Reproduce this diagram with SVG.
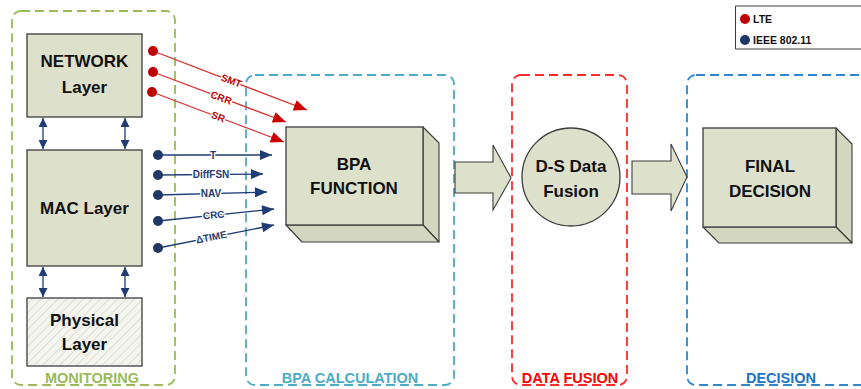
<svg xmlns="http://www.w3.org/2000/svg" width="861" height="389" viewBox="0 0 861 389">
  <style>
    .box { fill: #dde0cb; stroke: #3c3c3c; stroke-width: 1.3; }
    .side { fill: #d4d7c0; stroke: #3c3c3c; stroke-width: 1.1; stroke-linejoin: round; }
    .big { font-family: "Liberation Sans", Arial, sans-serif; font-weight: bold; font-size: 17px; fill: #111; text-anchor: middle; }
    .grp { fill: none; stroke-width: 1.8; stroke-dasharray: 9 5; }
    .glbl { font-family: "Liberation Sans", Arial, sans-serif; font-weight: bold; font-size: 14.5px; text-anchor: middle; }
    .lte { stroke: #d93030; stroke-width: 1.3; fill: none; }
    .wifi { stroke: #1f3c74; stroke-width: 1.3; fill: none; }
    .lbl { font-family: "Liberation Sans", Arial, sans-serif; font-weight: bold; font-size: 10px; text-anchor: middle; stroke: #fff; stroke-width: 2.5; paint-order: stroke; }
    .legend { font-family: "Liberation Sans", Arial, sans-serif; font-weight: bold; font-size: 10.5px; fill: #111; }
    .blk { fill: #dde0cb; stroke: #3c3c3c; stroke-width: 1.1; stroke-linejoin: miter; }
  </style>
  <defs>
    <marker id="redHead" viewBox="0 0 12 10" refX="12" refY="5" markerWidth="14" markerHeight="11" markerUnits="userSpaceOnUse" orient="auto">
      <path d="M0,0 L12,5 L0,10 Z" fill="#cc0000"/>
    </marker>
    <marker id="blueHead" viewBox="0 0 12 10" refX="12" refY="5" markerWidth="13" markerHeight="10" markerUnits="userSpaceOnUse" orient="auto">
      <path d="M0,0 L12,5 L0,10 Z" fill="#1f3c74"/>
    </marker>
    <marker id="redDot" viewBox="0 0 10 10" refX="5" refY="5" markerWidth="10" markerHeight="10" markerUnits="userSpaceOnUse">
      <circle cx="5" cy="5" r="5" fill="#c00000"/>
    </marker>
    <marker id="blueDot" viewBox="0 0 10 10" refX="5" refY="5" markerWidth="10" markerHeight="10" markerUnits="userSpaceOnUse">
      <circle cx="5" cy="5" r="5" fill="#1f3864"/>
    </marker>
    <marker id="vHead" viewBox="0 0 10 10" refX="10" refY="5" markerWidth="10" markerHeight="9" markerUnits="userSpaceOnUse" orient="auto-start-reverse">
      <path d="M0,0 L10,5 L0,10 Z" fill="#1f3c74"/>
    </marker>
    <pattern id="hatch" width="6" height="6" patternUnits="userSpaceOnUse" patternTransform="rotate(45)">
      <rect width="6" height="6" fill="#f5f5ef"/>
      <line x1="0" y1="0" x2="0" y2="6" stroke="#cfcfc4" stroke-width="1.2"/>
    </pattern>
  </defs>

  <!-- stage frames -->
  <g id="stage-monitoring">
    <rect class="grp" x="12" y="11" width="163" height="374" rx="9" stroke="#9bbb59"/>
    <text class="glbl" x="92" y="383" fill="#9bbb59">MONITORING</text>
  </g>
  <g id="stage-bpa">
    <rect class="grp" x="246" y="75" width="208" height="310" rx="9" stroke="#4bacc6"/>
    <text class="glbl" x="350" y="383" fill="#4bacc6">BPA CALCULATION</text>
  </g>
  <g id="stage-fusion">
    <rect class="grp" x="512" y="75" width="115" height="310" rx="9" stroke="#ff2a2a"/>
    <text class="glbl" x="570" y="383" fill="#ff0000">DATA FUSION</text>
  </g>
  <g id="stage-decision">
    <rect class="grp" x="687" y="75" width="200" height="310" rx="9" stroke="#2e86d0"/>
    <text class="glbl" x="781" y="383" fill="#1a73c4">DECISION</text>
  </g>

  <!-- protocol layers -->
  <g id="network-layer">
    <rect class="box" x="27" y="34" width="115" height="83"/>
    <text class="big" x="84.5" y="67">NETWORK</text>
    <text class="big" x="84.5" y="93">Layer</text>
  </g>
  <g id="mac-layer">
    <rect class="box" x="27" y="150" width="115" height="116"/>
    <text class="big" x="84.5" y="214">MAC Layer</text>
  </g>
  <g id="physical-layer">
    <rect x="27" y="298" width="115" height="68" fill="url(#hatch)" stroke="#3c3c3c" stroke-width="1.3"/>
    <text class="big" x="84.5" y="326">Physical</text>
    <text class="big" x="84.5" y="350">Layer</text>
  </g>

  <!-- BPA function cube -->
  <g id="bpa-function">
    <polygon class="side" points="423,127 439,143 439,242 423,225"/>
    <polygon class="side" points="286,225 423,225 439,242 302,242"/>
    <rect class="box" x="286" y="127" width="137" height="98"/>
    <text class="big" x="354" y="170">BPA</text>
    <text class="big" x="354" y="194">FUNCTION</text>
  </g>

  <!-- D-S fusion -->
  <g id="ds-fusion">
    <circle class="box" cx="571" cy="177" r="49"/>
    <text class="big" x="571" y="172">D-S Data</text>
    <text class="big" x="571" y="197">Fusion</text>
  </g>

  <!-- final decision cube -->
  <g id="final-decision">
    <polygon class="side" points="836,128 852,144 852,243 836,227"/>
    <polygon class="side" points="703,227 836,227 852,243 719,243"/>
    <rect class="box" x="703" y="128" width="133" height="99"/>
    <text class="big" x="770" y="172">FINAL</text>
    <text class="big" x="770" y="197">DECISION</text>
  </g>

  <!-- legend -->
  <g id="legend">
    <path d="M880,6 H735.5 V49 H880" fill="#fff" stroke="#3c3c3c" stroke-width="1"/>
    <circle cx="745" cy="19" r="5" fill="#c00000"/>
    <text class="legend" x="753" y="23">LTE</text>
    <circle cx="745" cy="40" r="5" fill="#1f3864"/>
    <text class="legend" x="753" y="44">IEEE 802.11</text>
  </g>

  <!-- connectors -->
  <g id="connectors">
    <!-- layer interfaces -->
    <line x1="43" y1="118" x2="43" y2="149" stroke="#1f3c74" stroke-width="1.3" marker-start="url(#vHead)" marker-end="url(#vHead)"/>
    <line x1="125" y1="118" x2="125" y2="149" stroke="#1f3c74" stroke-width="1.3" marker-start="url(#vHead)" marker-end="url(#vHead)"/>
    <line x1="43" y1="267" x2="43" y2="297" stroke="#1f3c74" stroke-width="1.3" marker-start="url(#vHead)" marker-end="url(#vHead)"/>
    <line x1="125" y1="267" x2="125" y2="297" stroke="#1f3c74" stroke-width="1.3" marker-start="url(#vHead)" marker-end="url(#vHead)"/>

    <!-- LTE metrics -->
    <line class="lte" x1="153" y1="51" x2="307" y2="110" marker-start="url(#redDot)" marker-end="url(#redHead)"/>
    <line class="lte" x1="153" y1="72" x2="286" y2="122" marker-start="url(#redDot)" marker-end="url(#redHead)"/>
    <line class="lte" x1="152" y1="92" x2="284" y2="142" marker-start="url(#redDot)" marker-end="url(#redHead)"/>
    <text class="lbl" fill="#c00000" transform="translate(230,84) rotate(21)">SMT</text>
    <text class="lbl" fill="#c00000" transform="translate(220,101) rotate(20.6)">CRR</text>
    <text class="lbl" fill="#c00000" transform="translate(217,120) rotate(20.7)">SR</text>

    <!-- IEEE 802.11 metrics -->
    <line class="wifi" x1="158" y1="155" x2="272" y2="155" marker-start="url(#blueDot)" marker-end="url(#blueHead)"/>
    <line class="wifi" x1="158" y1="175" x2="263" y2="174" marker-start="url(#blueDot)" marker-end="url(#blueHead)"/>
    <line class="wifi" x1="158" y1="195" x2="267" y2="192" marker-start="url(#blueDot)" marker-end="url(#blueHead)"/>
    <line class="wifi" x1="158" y1="221" x2="274" y2="209" marker-start="url(#blueDot)" marker-end="url(#blueHead)"/>
    <line class="wifi" x1="158" y1="248" x2="274" y2="225" marker-start="url(#blueDot)" marker-end="url(#blueHead)"/>
    <text class="lbl" fill="#1f3c74" x="213" y="158.5">T</text>
    <text class="lbl" fill="#1f3c74" x="211" y="178">DiffFSN</text>
    <text class="lbl" fill="#1f3c74" x="211" y="197">NAV</text>
    <text class="lbl" fill="#1f3c74" transform="translate(214,218.5) rotate(-5.9)">CRC</text>
    <text class="lbl" fill="#1f3c74" transform="translate(212,240.5) rotate(-11.2)">ΔTIME</text>

    <!-- stage-to-stage block arrows -->
    <polygon class="blk" points="455,162 493,162 493,145 511,178 493,210 493,193 455,193"/>
    <polygon class="blk" points="632,161 671,161 671,144 687,177 671,211 671,194 632,194"/>
  </g>
</svg>
